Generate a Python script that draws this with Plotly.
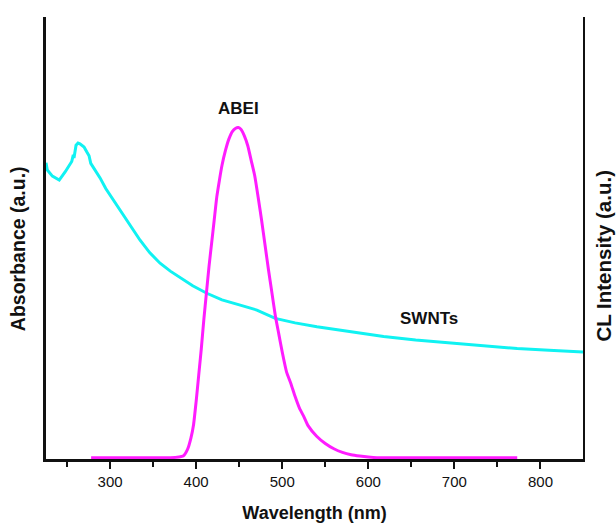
import plotly.graph_objects as go

# SWNTs absorbance spectrum (wavelength in nm, absorbance in a.u.)
swnt_wl = [225.6, 227.1, 233.0, 241.0, 248.0, 255.5, 257.3, 258.1, 260.5, 262.8,
           265.0, 267.1, 269.8, 272.9, 275.6, 277.6, 282.6, 288.4, 295.0, 303.8,
           311.0, 319.4, 327.0, 334.9, 346.0, 358.1, 370.0, 381.4, 396.0, 412.4,
           430.0, 451.2, 470.6, 491.9, 515.0, 540.3, 580.0, 617.8, 655.0, 695.3,
           735.0, 772.9, 810.0, 849.4]
swnt_abs = [0.670, 0.654, 0.640, 0.631, 0.650, 0.673, 0.688, 0.681, 0.710, 0.715,
            0.713, 0.710, 0.706, 0.695, 0.686, 0.669, 0.654, 0.636, 0.612, 0.586,
            0.563, 0.541, 0.517, 0.495, 0.467, 0.443, 0.425, 0.410, 0.392, 0.375,
            0.360, 0.348, 0.337, 0.318, 0.308, 0.299, 0.287, 0.277, 0.269, 0.262,
            0.256, 0.250, 0.246, 0.242]

# ABEI chemiluminescence spectrum (wavelength in nm, normalised intensity)
abei_wl = [278, 370, 380, 385, 390, 394, 397, 400, 403, 406, 409, 412, 415, 418,
           421, 424, 427, 430, 434, 438, 442, 446, 449, 452, 456, 460, 464, 468,
           472, 476, 480, 484, 488, 492, 496, 500, 505, 510, 515, 520, 525, 530,
           540, 550, 560, 570, 580, 590, 600, 610, 773]
abei_cl = [0.0, 0.0, 0.002, 0.005, 0.025, 0.06, 0.10, 0.17, 0.25, 0.33, 0.42,
           0.50, 0.58, 0.65, 0.72, 0.79, 0.84, 0.885, 0.93, 0.965, 0.988, 0.998,
           1.0, 0.995, 0.975, 0.945, 0.90, 0.855, 0.79, 0.72, 0.645, 0.57, 0.50,
           0.43, 0.375, 0.32, 0.26, 0.225, 0.185, 0.15, 0.125, 0.097, 0.065,
           0.043, 0.027, 0.016, 0.009, 0.005, 0.002, 0.0, 0.0]

x_ticks = [300, 400, 500, 600, 700, 800]
x_tick_labels = ["300", "400", "500", "600", "700", "800"]

FONT = "Liberation Sans, Arial, sans-serif"
INK = "#111"

fig = go.Figure()

fig.add_trace(go.Scatter(
    x=swnt_wl, y=swnt_abs, mode="lines", yaxis="y",
    line=dict(color="#10F2F2", width=3), showlegend=False,
))
fig.add_trace(go.Scatter(
    x=abei_wl, y=abei_cl, mode="lines", yaxis="y2",
    line=dict(color="#FF1CFF", width=3, shape="spline", smoothing=0.5),
    showlegend=False,
))

# Curve labels
fig.add_annotation(x=448.8, y=1.057, xref="x", yref="y2", text="<b>ABEI</b>",
                   showarrow=False, font=dict(family=FONT, size=17, color=INK))
fig.add_annotation(x=670.6, y=0.319, xref="x", yref="y", text="<b>SWNTs</b>",
                   showarrow=False, font=dict(family=FONT, size=17, color=INK))

# Vertical axis titles
fig.add_annotation(x=-0.052, y=0.475, xref="paper", yref="paper",
                   text="<b>Absorbance (a.u.)</b>", textangle=-90,
                   showarrow=False, xanchor="center", yanchor="middle",
                   font=dict(family=FONT, size=19.5, color=INK))
fig.add_annotation(x=1.039, y=0.46, xref="paper", yref="paper",
                   text="<b>CL Intensity (a.u.)</b>", textangle=-90,
                   showarrow=False, xanchor="center", yanchor="middle",
                   font=dict(family=FONT, size=20.5, color=INK))

fig.update_layout(
    width=616, height=524,
    margin=dict(l=46, r=33, t=17, b=65),
    paper_bgcolor="white", plot_bgcolor="white",
    font=dict(family=FONT, color=INK),
    xaxis=dict(
        range=[225.6, 849.4], showgrid=False, zeroline=False, automargin=False,
        showline=True, linecolor=INK, linewidth=2.5, layer="below traces",
        ticks="outside", ticklen=7, tickwidth=2, tickcolor=INK,
        tickvals=x_ticks, ticktext=x_tick_labels,
        tickfont=dict(family=FONT, size=15, color=INK),
        minor=dict(tick0=250, dtick=100, ticks="outside", ticklen=5,
                   tickwidth=2, tickcolor=INK, showgrid=False),
        title=dict(text="Wavelength (nm)", standoff=18,
                   font=dict(family=FONT, size=18, color=INK, weight="bold")),
    ),
    yaxis=dict(
        range=[0, 1.0], showgrid=False, zeroline=False, showticklabels=False,
        automargin=False,
        showline=True, linecolor=INK, linewidth=3, ticks="",
    ),
    yaxis2=dict(
        range=[-0.004, 1.335], overlaying="y", side="right",
        showgrid=False, zeroline=False, showticklabels=False, automargin=False,
        showline=True, linecolor=INK, linewidth=2, ticks="",
    ),
)

fig.write_html("out.html")
